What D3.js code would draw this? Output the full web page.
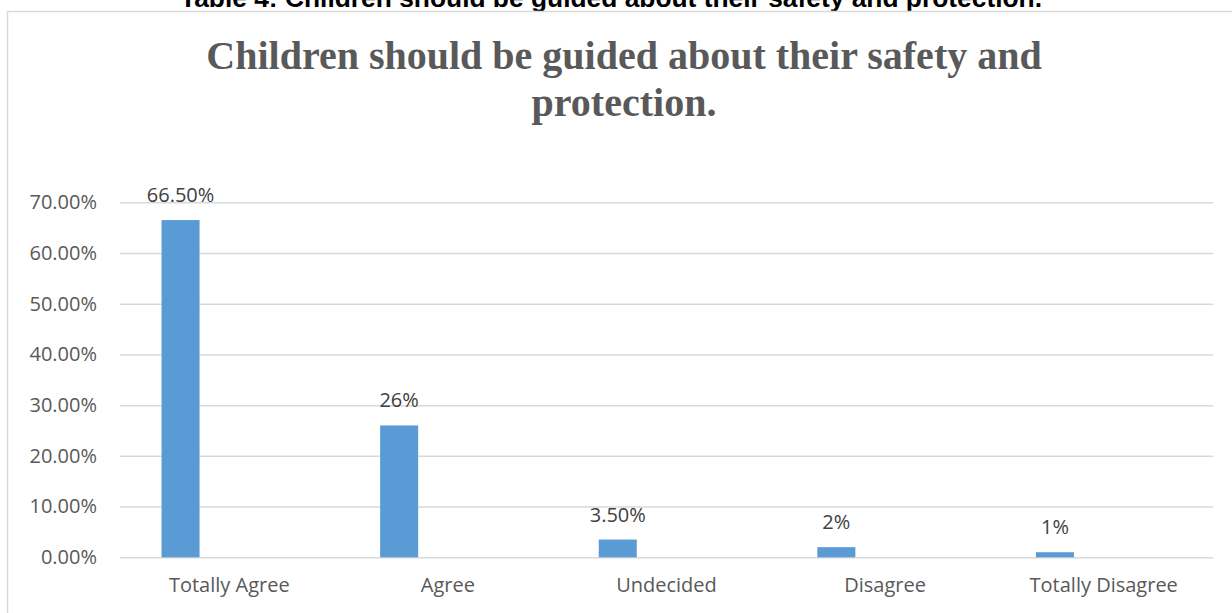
<!DOCTYPE html>
<html>
<head>
<meta charset="utf-8">
<script src="https://cdn.jsdelivr.net/npm/d3@7"></script>
<style>
  html, body { margin: 0; padding: 0; background: #fff; }
  svg { display: block; }
</style>
</head>
<body>
<svg id="chart" width="1232" height="613"></svg>
<script>
const categories = ["Totally Agree", "Agree", "Undecided", "Disagree", "Totally Disagree"];
const values = [66.5, 26, 3.5, 2, 1];
const valueLabels = ["66.50%", "26%", "3.50%", "2%", "1%"];
const yTicks = [0, 10, 20, 30, 40, 50, 60, 70];
const captionText = "Table 4: Children should be guided about their safety and protection.";
const titleLines = ["Children should be guided about their safety and", "protection."];

const svg = d3.select("#chart");
const plot = { left: 120, right: 1213, top: 202.3, bottom: 557.3 };
const textColor = "#595959";
const barColor = "#5b9bd5";
const gridColor = "#d9d9d9";

// caption above the chart (partly outside the page in the reference)
svg.append("text")
  .attr("x", 611).attr("y", 7)
  .attr("text-anchor", "middle")
  .attr("font-family", "Liberation Sans, Arial, sans-serif")
  .attr("font-weight", "bold")
  .attr("font-size", 26)
  .attr("textLength", 862)
  .attr("lengthAdjust", "spacingAndGlyphs")
  .attr("fill", "#000")
  .text(captionText);

// chart border
svg.append("rect")
  .attr("x", 7.5).attr("y", 11.5)
  .attr("width", 1300).attr("height", 700)
  .attr("fill", "#fff")
  .attr("stroke", gridColor)
  .attr("stroke-width", 1.5);

// title
svg.append("g").selectAll("text").data(titleLines).join("text")
  .attr("x", 624)
  .attr("y", (d, i) => 69 + i * 47)
  .attr("text-anchor", "middle")
  .attr("font-family", "Liberation Serif, Times New Roman, serif")
  .attr("font-weight", "bold")
  .attr("font-size", 40)
  .attr("fill", textColor)
  .text(d => d);

const x = d3.scaleBand().domain(categories).range([plot.left, plot.right]);
const y = d3.scaleLinear().domain([0, 70]).range([plot.bottom, plot.top]);

// gridlines + y axis labels
const yAxis = d3.axisLeft(y)
  .tickValues(yTicks)
  .tickSize(-(plot.right - plot.left))
  .tickPadding(23)
  .tickFormat(d => d.toFixed(2) + "%");

const yg = svg.append("g")
  .attr("transform", `translate(${plot.left},0)`)
  .call(yAxis);
yg.select(".domain").remove();
yg.selectAll(".tick line").attr("stroke", gridColor).attr("stroke-width", 1.5);
yg.selectAll(".tick text")
  .attr("font-family", "Open Sans, sans-serif")
  .attr("font-size", 20)
  .attr("fill", textColor);

// bars
const bw = x.bandwidth();
const barOffset = bw * 0.19;
const barWidth = bw * 0.174;
svg.append("g").selectAll("rect").data(values).join("rect")
  .attr("x", (d, i) => x(categories[i]) + barOffset)
  .attr("y", d => y(d))
  .attr("width", barWidth)
  .attr("height", d => y(0) - y(d))
  .attr("fill", barColor);

// data labels
svg.append("g").selectAll("text").data(values).join("text")
  .attr("x", (d, i) => x(categories[i]) + barOffset + barWidth / 2)
  .attr("y", d => y(d) - 18)
  .attr("text-anchor", "middle")
  .attr("font-family", "Open Sans, sans-serif")
  .attr("font-size", 20)
  .attr("fill", "#404040")
  .text((d, i) => valueLabels[i]);

// x axis labels
const xAxis = d3.axisBottom(x).tickSize(0).tickPadding(21);
const xg = svg.append("g")
  .attr("transform", `translate(0,${plot.bottom})`)
  .call(xAxis);
xg.select(".domain").remove();
xg.selectAll(".tick text")
  .attr("font-family", "Open Sans, sans-serif")
  .attr("font-size", 20)
  .attr("fill", textColor);
</script>
</body>
</html>
